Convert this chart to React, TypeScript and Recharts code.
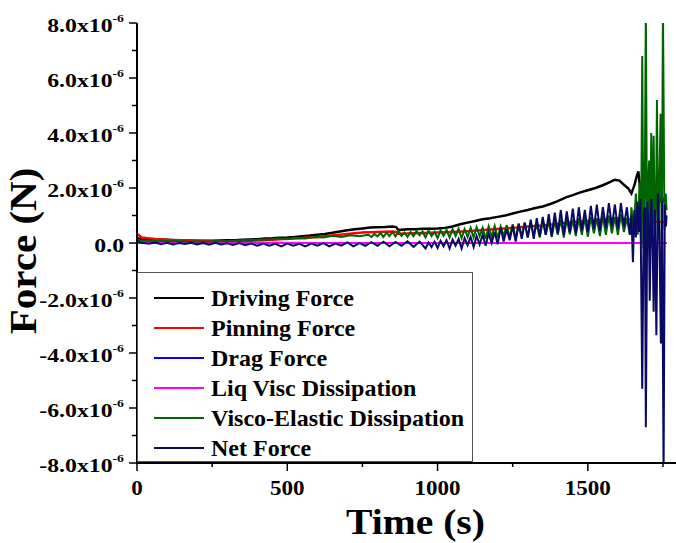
import { LineChart, Line, XAxis, YAxis, Legend } from "recharts";

const FONT = '"Liberation Serif", "Times New Roman", serif';

// time (s) and force (in units of 1e-6 N)
const DRIVE_T = [
  0, 10, 25, 50, 75, 100, 125, 150, 175, 200,
  225, 250, 275, 300, 325, 350, 375, 400, 425, 450,
  475, 500, 525, 550, 575, 600, 625, 650, 675, 700,
  725, 750, 775, 800, 825, 850, 862, 870, 900, 925,
  950, 975, 1000, 1025, 1050, 1075, 1100, 1125, 1150, 1175,
  1200, 1225, 1250, 1275, 1300, 1325, 1350, 1375, 1400, 1425,
  1450, 1475, 1500, 1525, 1550, 1575, 1590, 1605, 1620, 1635,
  1645, 1655, 1662, 1668, 1675, 1685, 1695, 1705, 1715, 1725,
  1735, 1745, 1755, 1762,
];
const DRIVE_F = [
  0.18, 0.15, 0.14, 0.13, 0.12, 0.12, 0.10, 0.10, 0.09, 0.08,
  0.08, 0.08, 0.09, 0.10, 0.10, 0.12, 0.13, 0.14, 0.16, 0.17,
  0.19, 0.20, 0.22, 0.25, 0.27, 0.30, 0.33, 0.37, 0.42, 0.46,
  0.50, 0.53, 0.56, 0.57, 0.58, 0.60, 0.58, 0.47, 0.50, 0.50,
  0.52, 0.52, 0.53, 0.55, 0.60, 0.68, 0.74, 0.80, 0.86, 0.90,
  0.95, 1.00, 1.07, 1.14, 1.20, 1.27, 1.33, 1.42, 1.52, 1.65,
  1.74, 1.84, 1.92, 2.00, 2.10, 2.22, 2.30, 2.27, 2.12, 1.98,
  1.80, 2.10, 2.40, 2.60, 1.90, 1.60, 1.80, 1.50, 1.70, 1.60,
  1.40, 1.70, 1.50, 1.55,
];

const PIN_T = [
  0, 5, 15, 30, 60, 100, 150, 200, 250, 300,
  350, 400, 450, 500, 550, 600, 650, 700, 750, 800,
  850, 862, 870, 900, 950, 1000, 1050, 1100, 1150, 1200,
  1250, 1300, 1350, 1400, 1450, 1500, 1550, 1600, 1650, 1700,
  1762,
];
const PIN_F = [
  0.32, 0.30, 0.20, 0.18, 0.15, 0.12, 0.10, 0.08, 0.06, 0.05,
  0.07, 0.10, 0.12, 0.15, 0.18, 0.22, 0.27, 0.33, 0.38, 0.40,
  0.42, 0.40, 0.34, 0.35, 0.36, 0.38, 0.40, 0.43, 0.47, 0.51,
  0.55, 0.60, 0.64, 0.70, 0.76, 0.80, 0.85, 0.90, 0.85, 0.80,
  0.75,
];

const DRAG_T = [0, 600, 1200, 1762];
const DRAG_F = [0.02, 0.0, 0.0, 0.0];

const LIQ_T = [0, 600, 1200, 1762];
const LIQ_F = [0.0, 0.0, 0.0, 0.0];

const VISCO_T = [
  0, 20, 50, 80, 110, 140, 170, 200, 230, 260,
  290, 320, 350, 380, 410, 440, 470, 500, 530, 560,
  590, 620, 650, 680, 710, 740, 770,
  780, 790, 800, 810, 820, 830, 840, 850, 860, 870,
  880, 890, 900, 910, 920, 930, 940, 950, 960, 970,
  980, 990, 1000, 1010, 1020, 1030, 1040, 1050, 1060, 1070,
  1080, 1090, 1100, 1110, 1120, 1130, 1140, 1150, 1160, 1170,
  1180, 1190, 1200, 1210, 1220, 1230, 1240, 1250, 1260, 1270,
  1280, 1290, 1300, 1310, 1320, 1330, 1340, 1350, 1360, 1370,
  1380, 1390, 1400, 1410, 1420, 1430, 1440, 1450, 1460, 1470,
  1480, 1490, 1500, 1510, 1520, 1530, 1540, 1550, 1560, 1570,
  1580, 1590, 1600, 1610, 1620, 1630, 1640,
  1645, 1652, 1660, 1666, 1672, 1677, 1681, 1685, 1689, 1693,
  1697, 1700, 1704, 1707, 1711, 1715, 1719, 1723, 1727, 1730,
  1734, 1738, 1742, 1746, 1750, 1755, 1759, 1762,
];
const VISCO_F = [
  0.10, 0.08, 0.07, 0.08, 0.06, 0.07, 0.05, 0.06, 0.05, 0.07,
  0.06, 0.08, 0.10, 0.09, 0.13, 0.12, 0.16, 0.14, 0.18, 0.16,
  0.22, 0.20, 0.26, 0.22, 0.28, 0.25, 0.30,
  0.22, 0.33, 0.24, 0.36, 0.22, 0.38, 0.25, 0.40, 0.24, 0.42,
  0.26, 0.38, 0.22, 0.40, 0.25, 0.44, 0.28, 0.42, 0.20, 0.45,
  0.25, 0.40, 0.18, 0.46, 0.26, 0.48, 0.20, 0.50, 0.25, 0.52,
  0.18, 0.50, 0.22, 0.55, 0.20, 0.58, 0.25, 0.55, 0.15, 0.60,
  0.22, 0.62, 0.18, 0.60, 0.25, 0.65, 0.20, 0.68, 0.15, 0.70,
  0.25, 0.72, 0.20, 0.75, 0.28, 0.70, 0.20, 0.78, 0.30, 0.80,
  0.22, 0.82, 0.30, 0.85, 0.20, 0.88, 0.32, 0.85, 0.25, 0.90,
  0.30, 0.92, 0.22, 0.95, 0.35, 0.90, 0.25, 0.98, 0.30, 1.00,
  0.35, 0.95, 0.30, 1.05, 0.40, 0.90, 0.30,
  1.30, 0.50, 1.80, 0.30, 2.20, 0.00, 6.80, -0.20, 1.20, 8.50,
  -0.30, 2.00, 3.00, 0.20, 4.00, 0.40, 3.90, -0.10, 1.50, 5.20,
  0.30, 2.00, 4.70, 0.00, 8.50, 0.50, 1.80, 1.20,
];

const NET_T = [
  0, 10, 20, 40, 60, 80, 100, 120, 140, 160,
  180, 200, 220, 240, 260, 280, 300, 320, 340, 360,
  380, 400, 420, 440, 460, 480, 500, 520, 540, 560,
  580, 600, 620, 640, 660, 680, 700, 720, 740, 760,
  780, 800, 820, 840, 860, 880, 900, 920, 940, 960,
  970, 980, 990, 1000, 1010, 1020, 1030, 1040, 1050, 1060,
  1070, 1080, 1090, 1100, 1110, 1120, 1130, 1140, 1150, 1160,
  1170, 1180, 1190, 1200, 1210, 1220, 1230, 1240, 1250, 1260,
  1270, 1280, 1290, 1300, 1310, 1320, 1330, 1340, 1350, 1360,
  1370, 1380, 1390, 1400, 1410, 1420, 1430, 1440, 1450, 1460,
  1470, 1480, 1490, 1500, 1510, 1520, 1530, 1540, 1550, 1560,
  1570, 1580, 1590, 1600, 1610, 1620, 1630, 1640,
  1645, 1650, 1655, 1660, 1665, 1670, 1675, 1681, 1686, 1690,
  1693, 1698, 1703, 1706, 1711, 1715, 1719, 1723, 1728, 1733,
  1738, 1743, 1747, 1752, 1756, 1760, 1762,
];
const NET_F = [
  0.08, 0.02, 0.00, -0.03, 0.02, -0.04, 0.01, -0.05, 0.00, -0.04,
  0.01, -0.05, 0.00, -0.06, 0.01, -0.05, -0.01, -0.07, 0.00, -0.08,
  -0.02, -0.10, -0.02, -0.10, -0.03, -0.12, -0.02, -0.10, -0.03, -0.12,
  -0.02, -0.10, 0.00, -0.12, -0.02, -0.10, 0.02, -0.12, 0.00, -0.10,
  0.03, -0.10, 0.05, -0.12, 0.04, -0.10, 0.06, -0.14, 0.05, -0.20,
  0.02, -0.15, 0.05, -0.18, 0.08, -0.12, 0.10, -0.20, 0.12, -0.10,
  0.15, -0.20, 0.18, -0.08, 0.22, -0.15, 0.25, -0.05, 0.30, -0.10,
  0.35, 0.00, 0.40, -0.05, 0.55, 0.05, 0.50, 0.10, 0.62, 0.05,
  0.70, 0.15, 0.75, 0.20, 0.85, 0.15, 0.90, 0.25, 0.95, 0.30,
  1.05, 0.25, 1.10, 0.35, 1.20, 0.30, 1.15, 0.40, 1.25, 0.35,
  1.30, 0.45, 1.20, 0.40, 1.35, 0.50, 1.40, 0.45, 1.30, 0.55,
  1.45, 0.60, 1.40, 0.50, 1.45, 0.60, 1.30, 0.30,
  1.00, -0.70, 1.20, 0.20, 1.50, 0.40, 1.60, -5.30, 1.00, 1.30,
  -6.70, 1.50, 0.50, -2.10, 1.60, 0.30, -2.50, 1.20, -3.35, 1.80,
  0.40, -3.65, 1.50, -8.50, 1.40, 0.60, 1.00,
];

const X_TICKS = [0, 250, 500, 750, 1000, 1250, 1500, 1750];
const Y_TICKS = [-8, -7, -6, -5, -4, -3, -2, -1, 0, 1, 2, 3, 4, 5, 6, 7, 8];
const RIGHT_TICKS = [0, 1, 2, 3, 4, 5, 6, 7, 8, 9, 10, 11];

const SERIES = [
  { name: "Driving Force", color: "#000000", t: DRIVE_T, f: DRIVE_F, w: 2.5 },
  { name: "Pinning Force", color: "#ff0000", t: PIN_T, f: PIN_F, w: 2.5 },
  { name: "Drag Force", color: "#0000ff", t: DRAG_T, f: DRAG_F, w: 2 },
  { name: "Liq Visc Dissipation", color: "#ff00ff", t: LIQ_T, f: LIQ_F, w: 2 },
  { name: "Visco-Elastic Dissipation", color: "#006400", t: VISCO_T, f: VISCO_F, w: 2 },
  { name: "Net Force", color: "#0a0a64", t: NET_T, f: NET_F, w: 2 },
];

const toPoints = (ts: number[], fs: number[]) => ts.map((t, i) => ({ t, f: fs[i] }));

function LeftTick({ x, y, payload }: any) {
  const v = payload.value;
  const major = v % 2 === 0;
  return (
    <g>
      <line x1={x - (major ? 8 : 5)} x2={x} y1={y} y2={y} stroke="#000" strokeWidth={1.5} />
      {major && (
        <text
          transform={`translate(${x - 13},${y + 9}) scale(1.25,1)`}
          textAnchor="end"
          fontFamily={FONT}
          fontWeight="bold"
          fontSize={19}
          fill="#000"
        >
          {v === 0 ? "0.0" : `${v.toFixed(1)}x10`}
          {v !== 0 && <tspan fontSize={11} dy={-10}>-6</tspan>}
        </text>
      )}
    </g>
  );
}

function BottomTick({ x, y, payload }: any) {
  const v = payload.value;
  const major = v % 500 === 0;
  return (
    <g>
      <line x1={x} x2={x} y1={y} y2={y + (major ? 8 : 4)} stroke="#000" strokeWidth={1.5} />
      {major && (
        <text
          transform={`translate(${x},${y + 32}) scale(1.15,1)`}
          textAnchor="middle"
          fontFamily={FONT}
          fontWeight="bold"
          fontSize={20}
          fill="#000"
        >
          {v}
        </text>
      )}
    </g>
  );
}

function TopTick({ x, y, payload }: any) {
  const major = payload.value % 500 === 0;
  return <line x1={x} x2={x} y1={y} y2={y + (major ? 9 : 4)} stroke="#000" strokeWidth={1.5} />;
}

function RightTick({ x, y }: any) {
  return <line x1={x - 6} x2={x} y1={y} y2={y} stroke="#000" strokeWidth={1.5} />;
}

function TimeTitle({ viewBox }: any) {
  const cx = viewBox.x + viewBox.width / 2 + 8;
  return (
    <text
      transform={`translate(${cx},${viewBox.y + 71}) scale(1.1,1)`}
      textAnchor="middle"
      fontFamily={FONT}
      fontWeight="bold"
      fontSize={36}
      fill="#000"
    >
      Time (s)
    </text>
  );
}

function ForceTitle({ viewBox }: any) {
  const cy = viewBox.y + viewBox.height / 2 + 8;
  return (
    <text
      transform={`translate(${viewBox.x + 36},${cy}) rotate(-90) scale(1.08,1)`}
      textAnchor="middle"
      fontFamily={FONT}
      fontWeight="bold"
      fontSize={38}
      fill="#000"
    >
      Force (N)
    </text>
  );
}

function LegendBox() {
  return (
    <div
      style={{
        width: 336,
        height: 190,
        boxSizing: "border-box",
        border: "1px solid #555",
        background: "#fff",
        paddingTop: 10,
      }}
    >
      {SERIES.map((s) => (
        <div key={s.name} style={{ display: "flex", alignItems: "center", height: 30 }}>
          <span style={{ display: "inline-block", marginLeft: 16, width: 50, height: 2, background: s.color }} />
          <span
            style={{
              marginLeft: 7,
              fontFamily: FONT,
              fontWeight: "bold",
              fontSize: 24,
              lineHeight: "30px",
              color: "#000",
              whiteSpace: "nowrap",
            }}
          >
            {s.name}
          </span>
        </div>
      ))}
    </div>
  );
}

export default function App() {
  return (
    <div style={{ position: "fixed", left: 0, top: 0, width: 676, height: 543, overflow: "hidden", background: "#fff" }}>
      <LineChart width={690} height={543} margin={{ top: 23, right: 12, bottom: 0, left: 0 }}>
        <XAxis
          dataKey="t"
          type="number"
          domain={[0, 1800]}
          ticks={X_TICKS}
          interval={0}
          allowDataOverflow
          height={80}
          tickSize={0}
          tickMargin={0}
          tickLine={false}
          axisLine={{ stroke: "#000", strokeWidth: 2 }}
          tick={BottomTick}
          label={{ content: (p: any) => <TimeTitle viewBox={p.viewBox} /> }}
        />
        <XAxis
          xAxisId="top"
          orientation="top"
          type="number"
          domain={[0, 1800]}
          ticks={X_TICKS}
          interval={0}
          height={0}
          tickSize={0}
          tickMargin={0}
          tickLine={false}
          axisLine={{ stroke: "#000", strokeWidth: 2 }}
          tick={TopTick}
        />
        <YAxis
          type="number"
          domain={[-8, 8]}
          ticks={Y_TICKS}
          interval={0}
          allowDataOverflow
          width={137}
          tickSize={0}
          tickMargin={0}
          tickLine={false}
          axisLine={{ stroke: "#000", strokeWidth: 2 }}
          tick={LeftTick}
          label={{ content: (p: any) => <ForceTitle viewBox={p.viewBox} /> }}
        />
        <YAxis
          yAxisId="right"
          orientation="right"
          type="number"
          domain={[0, 11]}
          ticks={RIGHT_TICKS}
          interval={0}
          width={0}
          tickSize={0}
          tickMargin={0}
          tickLine={false}
          axisLine={{ stroke: "#000", strokeWidth: 2 }}
          tick={RightTick}
        />
        {SERIES.map((s) => (
          <Line
            key={s.name}
            name={s.name}
            data={toPoints(s.t, s.f)}
            dataKey="f"
            type="linear"
            stroke={s.color}
            strokeWidth={s.w}
            dot={false}
            activeDot={false}
            isAnimationActive={false}
          />
        ))}
        <Legend
          layout="vertical"
          align="center"
          verticalAlign="middle"
          content={<LegendBox />}
          wrapperStyle={{ left: 137, top: 272, width: 336, height: 190 }}
        />
      </LineChart>
    </div>
  );
}
